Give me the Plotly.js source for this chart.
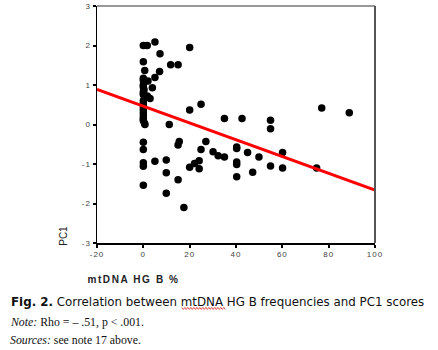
<!DOCTYPE html>
<html>
<head>
<meta charset="utf-8">
<script src="https://cdn.plot.ly/plotly-3.0.1.min.js"></script>
<style>html,body{margin:0;padding:0;background:#fff;}#chart{width:438px;height:350px;}</style>
</head>
<body>
<div id="chart"></div>
<script>
// Scatter data: mtDNA HG B % (x) vs PC1 score (y)
const hgB = [0, 1.7, 5, 20, 7.2, 0, 11.8, 15, 0.6, 7, 5,
  0, 0, 0.3, 2, 0, 0, 0.3, 3.9, 0, 0, 1.7, 0.5, 2.9, 0, 0, 0, 0, 0, 0, 0, 0, 0.5, 0.7,
  20, 24.9, 11.2, 35, 42.6, 54.9, 54.9, 77, 88.9,
  0, 0, 0, 0, 0, 5, 9.9, 9.9, 9.9, 15, 15.5, 15, 17.5, 20, 22.1, 24.1, 24.1, 24.9, 27,
  30.1, 32.3, 35, 40.3, 40.3, 40.3, 40.3, 40.3, 45, 47.2, 49.9, 54.9, 60.1, 60.1, 74.8];
const pc1 = [2.0, 2.0, 2.09, 1.95, 1.79, 1.59, 1.51, 1.51, 1.365, 1.34, 1.19,
  1.17, 1.12, 1.06, 1.10, 1.0, 0.95, 0.88, 0.93, 0.82, 0.76, 0.72, 0.70, 0.66, 0.6, 0.52, 0.46, 0.38, 0.3, 0.22, 0.15, 0.1, 0.03, 0.0,
  0.37, 0.51, 0.0, 0.15, 0.15, 0.11, -0.11, 0.42, 0.295,
  -0.45, -0.63, -0.97, -1.06, -1.54, -0.93, -0.90, -1.22, -1.74, -1.40, -0.43, -0.52, -2.10, -1.08, -0.99, -0.92, -1.12, -0.63, -0.43,
  -0.69, -0.79, -0.82, -0.57, -0.61, -0.95, -1.01, -1.32, -0.71, -1.21, -0.82, -1.05, -0.71, -1.10, -1.10];
// Fitted regression line endpoints
const fitX = [-20, 100];
const fitY = [0.89, -1.66];
// Tick labels
const xTicks = [-20, 0, 20, 40, 60, 80, 100];
const xTickText = ["-20", "0", "20", "40", "60", "80", "100"];
const yTicks = [-3, -2, -1, 0, 1, 2, 3];
const yTickText = ["-3", "-2", "-1", "0", "1", "2", "3"];
// Texts
const xTitle = "mtDNA HG B %";
const yTitle = "PC1";
const caption = "<b>Fig. 2.</b> Correlation between mtDNA HG B frequencies and PC1 scores";
const note = "<i>Note:</i> Rho = – .51, p &lt; .001.";
const sources = "<i>Sources:</i> see note 17 above.";

// pixel -> paper helpers
const L = 97, R = 375.5, T = 6, B = 243.3;
const px = x => (x - L) / (R - L);
const py = y => (B - y) / (B - T);

// spell-check squiggle under "mtDNA"
let sq = "";
for (let i = 0, x = 182; x <= 226; i++, x += 1.5) {
  const y = 308.8 + (i % 2 ? 1 : -1);
  sq += (i === 0 ? "M " : " L ") + px(x).toFixed(4) + "," + py(y).toFixed(4);
}

const traces = [
  {x: hgB, y: pc1, type: "scatter", mode: "markers",
   marker: {color: "#000", size: 7.5, line: {width: 0}}, hoverinfo: "x+y"},
  {x: fitX, y: fitY, type: "scatter", mode: "lines",
   line: {color: "#ff0000", width: 3}, hoverinfo: "skip"}
];

const axisFont = {family: "Arial, Liberation Sans, sans-serif", size: 8, color: "#444"};
const layout = {
  width: 438, height: 350,
  margin: {l: L, r: 438 - R, t: T, b: 350 - B, pad: 0},
  paper_bgcolor: "#fff", plot_bgcolor: "#fff",
  showlegend: false,
  xaxis: {range: [-20, 100], tickvals: xTicks, ticktext: xTickText, showgrid: false, zeroline: false,
          showline: true, linecolor: "#000", linewidth: 1.5, ticks: "outside", ticklen: 3, tickwidth: 2,
          tickcolor: "#000", tickfont: axisFont},
  yaxis: {range: [-3, 3], tickvals: yTicks, ticktext: yTickText, showgrid: false, zeroline: false,
          showline: true, linecolor: "#000", linewidth: 1.5, ticks: "outside", ticklen: 3, tickwidth: 2,
          tickcolor: "#000", tickfont: axisFont},
  shapes: [
    {type: "line", xref: "paper", yref: "paper", x0: 0, x1: 1, y0: 1, y1: 1, line: {color: "#333", width: 1}},
    {type: "line", xref: "paper", yref: "paper", x0: 1, x1: 1, y0: 0, y1: 1, line: {color: "#555", width: 2}},
    {type: "path", xref: "paper", yref: "paper", path: sq, line: {color: "#e02020", width: 0.8}}
  ],
  annotations: [
    {text: xTitle, xref: "paper", yref: "paper", x: px(95), y: py(280), xanchor: "left", yanchor: "middle",
     showarrow: false, font: {family: "Arial, Liberation Sans, sans-serif", size: 10, color: "#222", weight: "bold"}},
    {text: yTitle, xref: "paper", yref: "paper", x: px(64), y: py(236), xanchor: "center", yanchor: "middle",
     textangle: -90, showarrow: false, font: {family: "Arial, Liberation Sans, sans-serif", size: 10, color: "#222"}},
    {text: caption, xref: "paper", yref: "paper", x: px(9), y: py(302.5), xanchor: "left", yanchor: "middle",
     showarrow: false, font: {family: "DejaVu Sans, Verdana, sans-serif", size: 11.85, color: "#111"}},
    {text: note, xref: "paper", yref: "paper", x: px(8), y: py(322), xanchor: "left", yanchor: "middle",
     showarrow: false, font: {family: "Liberation Serif, Times New Roman, serif", size: 11.8, color: "#111"}},
    {text: sources, xref: "paper", yref: "paper", x: px(8), y: py(340), xanchor: "left", yanchor: "middle",
     showarrow: false, font: {family: "Liberation Serif, Times New Roman, serif", size: 11.8, color: "#111"}}
  ]
};

Plotly.newPlot("chart", traces, layout, {staticPlot: true, displayModeBar: false}).then(gd => {
  gd.querySelectorAll(".annotation-text").forEach(t => {
    if (t.textContent === xTitle) t.style.letterSpacing = "1.6px";
  });
  gd.querySelectorAll(".xtick text, .ytick text").forEach(t => { t.style.letterSpacing = "1px"; });
});
</script>
</body>
</html>
